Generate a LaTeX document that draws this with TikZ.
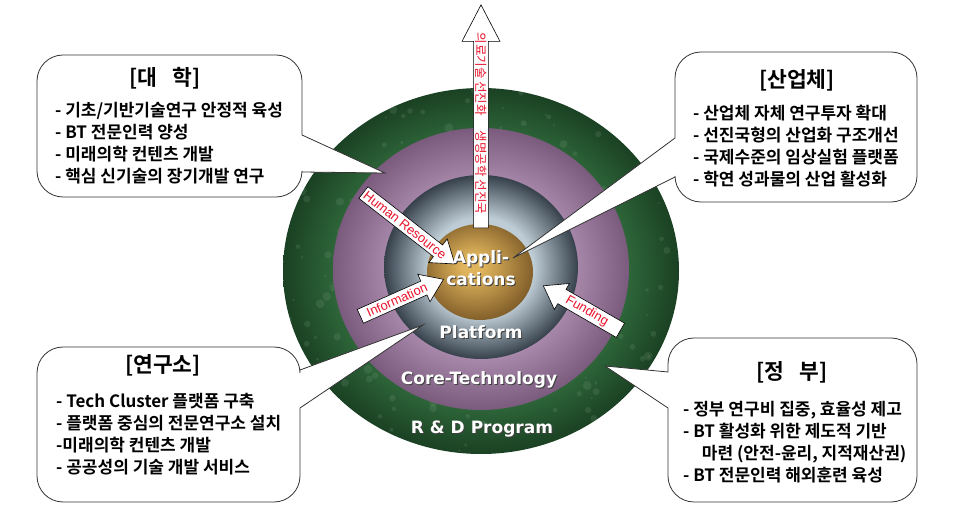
\documentclass[tikz,border=0pt]{standalone}
\usepackage{fontspec}
\setmainfont{Liberation Sans}
\newfontfamily\kor{Noto Sans CJK KR}[BoldFont={Noto Sans CJK KR Bold}]
\newfontfamily\dejav{DejaVu Sans}[BoldFont={DejaVu Sans Bold}]
\usetikzlibrary{shapes.arrows}

% Colores
\definecolor{verde1}{HTML}{30693B}
\definecolor{verde2}{HTML}{1A4123}
\definecolor{lila1}{HTML}{A888AA}
\definecolor{lila2}{HTML}{7A5A7D}
\definecolor{gris1}{HTML}{BECCD5}
\definecolor{gris2}{HTML}{36414C}
\definecolor{oro1}{HTML}{E0B45C}
\definecolor{oro2}{HTML}{7A5826}
\definecolor{rojo}{HTML}{E8142C}

% Sombreados de los anillos
\pgfdeclareradialshading{anilloverde}{\pgfpoint{0bp}{0bp}}{color(0bp)=(verde1); color(18bp)=(verde1); color(25bp)=(verde2); color(50bp)=(verde2)}
\pgfdeclareradialshading{anillolila}{\pgfpoint{0bp}{0bp}}{color(0bp)=(lila1); color(16bp)=(lila1); color(25bp)=(lila2); color(50bp)=(lila2)}
\pgfdeclareradialshading{anillogris}{\pgfpoint{0bp}{0bp}}{color(0bp)=(gris1); color(13.5bp)=(gris1); color(25bp)=(gris2); color(50bp)=(gris2)}
\pgfdeclareradialshading{centrooro}{\pgfpoint{-4bp}{4bp}}{color(0bp)=(oro1); color(5bp)=(oro1); color(29bp)=(oro2); color(50bp)=(oro2)}

\newcommand{\consombra}[1]{\makebox[0pt][l]{\raisebox{-1pt}{\hspace{1pt}\textcolor{black!75}{#1}}}#1}

\begin{document}
\begin{tikzpicture}[x=1pt,y=-1pt,
% Estilo de los cuadros
cuadro/.style={draw=black!80, fill=white, line width=0.8pt},
titulo/.style={font=\kor\bfseries\fontsize{21.5}{24}\selectfont, inner sep=0pt},
lista/.style={font=\kor\bfseries\fontsize{17}{22}\selectfont, align=left, inner sep=0pt, anchor=west},
% Estilo de los anillos
etiqueta/.style={font=\dejav\bfseries\fontsize{17}{22}\selectfont, text=white, align=center, inner sep=0pt},
% Estilo de las flechas
flecha/.style={single arrow, draw=black, fill=white, line width=0.6pt, text=rojo,
  font=\fontsize{13}{14}\selectfont, inner sep=1pt, minimum width=30pt,
  single arrow head extend=6pt, single arrow tip angle=70, single arrow head indent=0pt},
]
\useasboundingbox (0,0) rectangle (970,518);

% Anillos
\shade[shading=anilloverde] (481,271) ellipse [x radius=198pt, y radius=183pt];
\begin{scope}
\clip (481,271) ellipse [x radius=198pt, y radius=183pt];
\pgfmathsetseed{11}
\foreach \i in {1,...,260}
  \fill[verde1!60!white, opacity=0.18] ({283+396*rnd},{88+366*rnd}) circle [radius={(1+3.5*rnd)*1pt}];
\end{scope}
\shade[shading=anillolila] (481,269) ellipse [x radius=148pt, y radius=141pt];
\shade[shading=anillogris] (481,267) ellipse [x radius=97pt, y radius=92pt];
\shade[shading=centrooro] (480,272) ellipse [x radius=53pt, y radius=48pt];

% Flechas
\node[flecha, rotate=-90, shape border rotate=180, minimum height=223pt, minimum width=38pt,
  single arrow head extend=11pt, single arrow tip angle=55, font=\kor\fontsize{12.5}{13}\selectfont]
  (meta) at (481,123.5) {의료기술 선진화\hspace{1.2em}생명공학 선진국};
\node[flecha, rotate=-38, minimum height=116pt] (rrhh) at (405,225) {Human Resource};
\node[flecha, rotate=24, minimum height=91pt] (info) at (397,300) {Information};
\node[flecha, rotate=-30, shape border rotate=180, minimum height=89pt] (fondos) at (587,311) {Funding};

% Cuadros
\draw[cuadro] (37,126) [rounded corners=26pt] -- (37,55) -- (302,55) [sharp corners] -- (302,135)
  -- (385,173) -- (302,172) [rounded corners=26pt] -- (302,197) -- (37,197) -- cycle;
\draw[cuadro] (917,126) [rounded corners=26pt] -- (917,52) -- (675,52) [sharp corners] -- (675,138)
  -- (513,258) -- (675,177) [rounded corners=26pt] -- (675,202) -- (917,202) -- cycle;
\draw[cuadro] (37,420) [rounded corners=26pt] -- (37,347) -- (300,347) [sharp corners] -- (300,370)
  -- (423,325) -- (300,408) [rounded corners=26pt] -- (300,502) -- (37,502) -- cycle;
\draw[cuadro] (917,420) [rounded corners=26pt] -- (917,338) -- (668,338) [sharp corners] -- (668,372)
  -- (605,366) -- (668,408) [rounded corners=26pt] -- (668,502) -- (917,502) -- cycle;

% Textos de los anillos
\node[etiqueta] (apl) at (481,269) {\consombra{Appli-}\\\consombra{cations}};
\node[etiqueta] (plat) at (481,333) {\consombra{Platform}};
\node[etiqueta] (core) at (479,380) {\consombra{Core-Technology}};
\node[etiqueta] (rd) at (482,430) {\consombra{R \& D Program}};

% Textos de los cuadros
\node[titulo] (tuni) at (165,78) {[대\hspace{0.7em}학]};
\node[lista] (luni) at (55,143) {- 기초/기반기술연구 안정적 육성\\- BT 전문인력 양성\\- 미래의학 컨텐츠 개발\\- 핵심 신기술의 장기개발 연구};
\node[titulo] (tind) at (797,80) {[산업체]};
\node[lista] (lind) at (693,146) {- 산업체 자체 연구투자 확대\\- 선진국형의 산업화 구조개선\\- 국제수준의 임상실험 플랫폼\\- 학연 성과물의 산업 활성화};
\node[titulo] (tinst) at (163,365) {[연구소]};
\node[lista] (linst) at (56,434) {- Tech Cluster 플랫폼 구축\\- 플랫폼 중심의 전문연구소 설치\\-미래의학 컨텐츠 개발\\- 공공성의 기술 개발 서비스};
\node[titulo] (tgob) at (792,372) {[정\hspace{0.7em}부]};
\node[lista] (lgob) at (683,442) {- 정부 연구비 집중, 효율성 제고\\- BT 활성화 위한 제도적 기반\\\hspace{1.1em}마련 (안전-윤리, 지적재산권)\\- BT 전문인력 해외훈련 육성};
\end{tikzpicture}
\end{document}
